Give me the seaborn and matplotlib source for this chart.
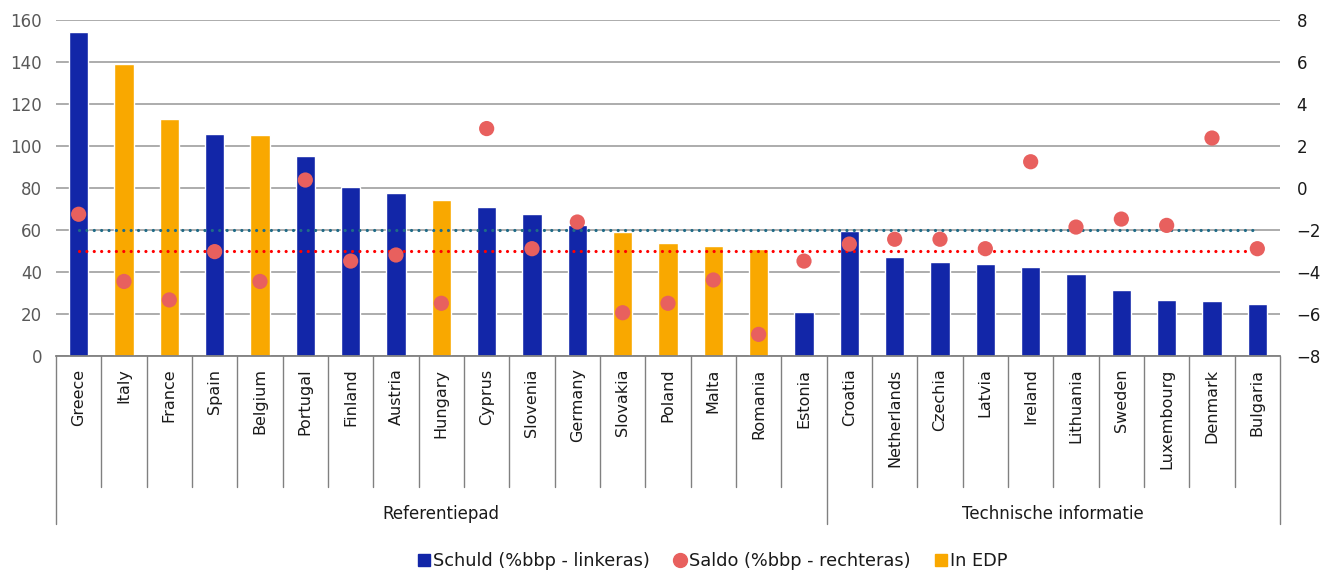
import numpy as np
import pandas as pd
import matplotlib
matplotlib.use("Agg")
import matplotlib.pyplot as plt
import matplotlib.transforms as mtransforms
from matplotlib.lines import Line2D
import seaborn as sns

countries = ["Greece", "Italy", "France", "Spain", "Belgium", "Portugal", "Finland",
             "Austria", "Hungary", "Cyprus", "Slovenia", "Germany", "Slovakia", "Poland",
             "Malta", "Romania", "Estonia", "Croatia", "Netherlands", "Czechia", "Latvia",
             "Ireland", "Lithuania", "Sweden", "Luxembourg", "Denmark", "Bulgaria"]
schuld = [154.4, 139.0, 113.0, 105.6, 105.4, 95.2, 80.3, 77.5, 74.4, 70.8, 67.8, 62.4,
          58.9, 53.7, 52.2, 50.8, 21.0, 59.7, 47.0, 44.6, 44.0, 42.5, 38.9, 31.3, 26.8,
          26.2, 24.8]
saldo = [-1.25, -4.45, -5.33, -3.03, -4.45, 0.38, -3.48, -3.19, -5.49, 2.83, -2.89, -1.62,
         -5.94, -5.49, -4.38, -6.97, -3.48, -2.67, -2.44, -2.44, -2.89, 1.25, -1.86, -1.48,
         -1.78, 2.38, -2.89]
in_edp = [False, True, True, False, True, False, False, False, True, False, False, False,
          True, True, True, True, False, False, False, False, False, False, False, False,
          False, False, False]
groups = [("Referentiepad", 0, 16), ("Technische informatie", 17, 26)]
debt_ref = 60
deficit_ref = -3

BLUE = "#1226A8"
ORANGE = "#F9A800"
DOT = "#E8605E"
TEAL = "#1E6B87"
RED = "#FF0000"
GRID = "#A6A6A6"

sns.set_theme(style="white")
plt.rcParams["font.family"] = ["DejaVu Sans"]

df = pd.DataFrame({"land": countries, "schuld": schuld, "saldo": saldo,
                   "edp": ["ja" if e else "nee" for e in in_edp]})
df["pos"] = np.arange(len(countries))

fig = plt.figure(figsize=(13.26, 5.71), dpi=100)
ax = fig.add_axes([56 / 1326, 1 - 356 / 571, 1224 / 1326, 336 / 571])

sns.barplot(data=df, x="land", y="schuld", hue="edp", order=countries,
            palette={"ja": ORANGE, "nee": BLUE}, dodge=False, width=0.43,
            saturation=1, legend=False, ax=ax, zorder=2)

ax.set_xlim(-0.5, len(countries) - 0.5)
ax.set_ylim(0, 160)
ax.set_yticks(np.arange(0, 161, 20))
ax.yaxis.grid(True, color=GRID, linewidth=1.3, zorder=0)
ax.set_axisbelow(True)
for s in ["left", "right", "top"]:
    ax.spines[s].set_visible(False)
ax.spines["bottom"].set_color("#808080")
ax.spines["bottom"].set_linewidth(1.3)
ax.tick_params(axis="y", length=0, labelsize=12, labelcolor="#595959", pad=10)
ax.tick_params(axis="x", length=0, labelsize=11.5, labelcolor="#1a1a1a", pad=9)
ax.set_xticks(range(len(countries)))
ax.set_xticklabels(countries, rotation=90, va="top")
ax.set_xlabel("")
ax.set_ylabel("")

# category separators and group brackets below the axis
trans = mtransforms.blended_transform_factory(ax.transData, ax.transAxes)
group_edges = {groups[0][1] - 0.5, groups[0][2] + 0.5, groups[1][2] + 0.5}
for k in range(len(countries) + 1):
    xb = k - 0.5
    y_end = -0.5 if xb in group_edges else -0.39
    ax.plot([xb, xb], [0, y_end], transform=trans, color="#808080", lw=1.0,
            clip_on=False, zorder=1)
for name, i0, i1 in groups:
    ax.text((i0 + i1) / 2, -0.47, name, transform=trans, ha="center", va="center",
            fontsize=12, color="#1a1a1a")

ax2 = ax.twinx()
ax2.set_ylim(-8, 8)
ax2.set_yticks(np.arange(-8, 9, 2))
for s in ax2.spines.values():
    s.set_visible(False)
ax2.tick_params(axis="y", length=0, labelsize=12, labelcolor="#1a1a1a", pad=12)
ax2.grid(False)

dotted = (0, (0.01, 2.3))
ax2.plot([0, len(countries) - 1], [-2, -2], color=TEAL, lw=2.3, linestyle=dotted,
         dash_capstyle="round", zorder=3)
ax2.plot([0, len(countries) - 1], [deficit_ref, deficit_ref], color=RED, lw=2.3,
         linestyle=dotted, dash_capstyle="round", zorder=3)

sns.scatterplot(data=df, x="pos", y="saldo", color=DOT, s=120, edgecolor="none",
                ax=ax2, zorder=4, legend=False)
ax2.set_xlim(-0.5, len(countries) - 0.5)
ax2.set_xlabel("")
ax2.set_ylabel("")

handles = [
    Line2D([], [], marker="s", linestyle="none", color=BLUE, markersize=8),
    Line2D([], [], marker="o", linestyle="none", color=DOT, markersize=10),
    Line2D([], [], marker="s", linestyle="none", color=ORANGE, markersize=8),
]
labels = ["Schuld (%bbp - linkeras)", "Saldo (%bbp - rechteras)", "In EDP"]
fig.legend(handles, labels, loc="center", bbox_to_anchor=(0.537, 0.017), ncol=3,
           frameon=False, fontsize=12.8, handletextpad=0.1, columnspacing=1.3,
           handlelength=0.8, labelcolor="#1a1a1a")

fig.savefig("out.png", dpi=100)
